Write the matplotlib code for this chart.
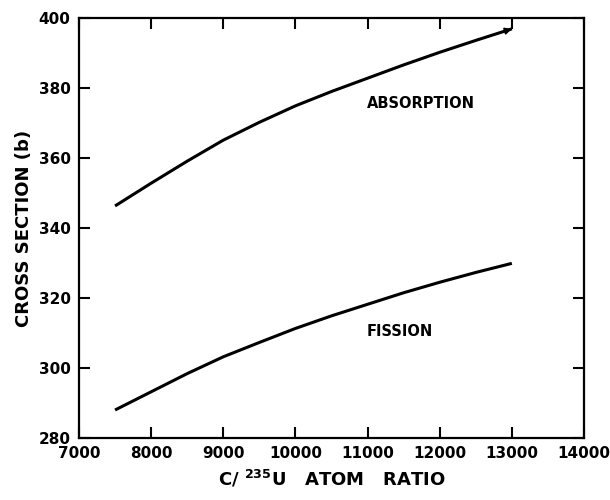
import numpy as np
import matplotlib
matplotlib.use("Agg")
import matplotlib.pyplot as plt

# C/235U atom ratio and cross sections (barns)
ratio = [7500, 8000, 8500, 9000, 9500, 10000, 10500, 11000, 11500, 12000, 12500, 13000]
absorption = [346.3, 352.8, 359.1, 365.1, 370.2, 374.9, 379.0, 382.8, 386.6, 390.2, 393.6, 396.9]
fission = [288.0, 293.2, 298.4, 303.2, 307.3, 311.3, 314.9, 318.2, 321.5, 324.5, 327.3, 329.9]

xticks = [7000, 8000, 9000, 10000, 11000, 12000, 13000, 14000]
yticks = [280, 300, 320, 340, 360, 380, 400]

plt.rcParams['font.family'] = ['DejaVu Sans']
plt.rcParams['font.weight'] = 'bold'

fig = plt.figure(figsize=(6.1, 5.0), dpi=100)
fig.subplots_adjust(left=79 / 610, right=584 / 610, bottom=1 - 438 / 500, top=1 - 18 / 500)
ax = fig.add_subplot(111)

ax.plot(ratio, absorption, color='black', lw=2.2, solid_capstyle='butt')
ax.plot(ratio, fission, color='black', lw=2.2, solid_capstyle='butt')
# small arrowhead at the end of the absorption curve
ax.annotate('', xy=(ratio[-1], absorption[-1]), xytext=(ratio[-2], absorption[-2]),
            arrowprops=dict(arrowstyle='-|>', color='black', lw=1.2, mutation_scale=10,
                            shrinkA=0, shrinkB=0))

ax.text(11740, 375.7, 'ABSORPTION', ha='center', va='center', fontsize=10.5, fontweight='bold')
ax.text(11450, 310.4, 'FISSION', ha='center', va='center', fontsize=10.5, fontweight='bold')

ax.set_xlim(7000, 14000)
ax.set_ylim(280, 400)
ax.set_xticks(xticks)
ax.set_yticks(yticks)
ax.tick_params(direction='in', length=8, width=1.5, top=True, right=True, labelsize=11, pad=6)
for lab in ax.get_xticklabels() + ax.get_yticklabels():
    lab.set_fontweight('bold')
for sp in ax.spines.values():
    sp.set_linewidth(1.6)

ax.set_ylabel('CROSS SECTION (b)', fontsize=13, fontweight='bold', labelpad=4)
ax.set_xlabel(r'C/ $^{\mathbf{235}}$U   ATOM   RATIO', fontsize=13, fontweight='bold', labelpad=5)

fig.savefig('out.png', dpi=100)
